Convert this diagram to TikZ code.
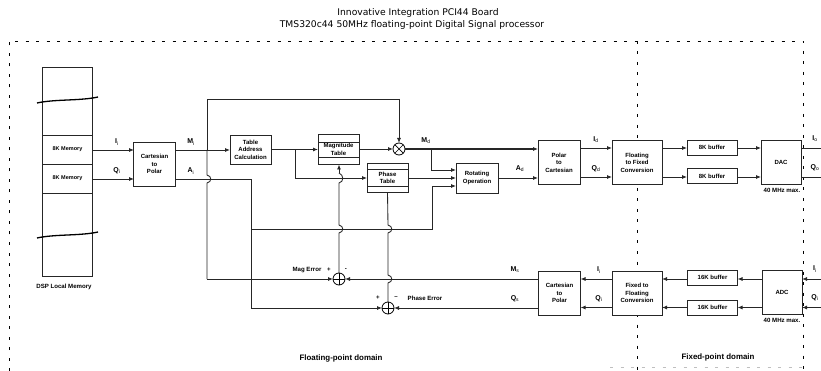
\documentclass[tikz,border=0pt]{standalone}
\usepackage{fontspec}
\setmainfont{Liberation Sans}
\newfontfamily\titlefont{DejaVu Sans}
\usetikzlibrary{arrows.meta}
\tikzset{
  every node/.style={inner sep=0pt,outer sep=0pt},
  block/.style={draw=black!85,line width=.9pt,fill=white,align=center,font=\fontsize{6}{7.6}\selectfont\bfseries},
  bigblock/.style={block,minimum width=42pt,minimum height=44pt},
  tallblock/.style={block,minimum width=50pt,minimum height=44pt},
  smallblock/.style={block,minimum width=50pt,minimum height=15pt},
  dacblock/.style={block,minimum width=40pt,minimum height=44pt},
  addrblock/.style={block,minimum width=41pt,minimum height=29pt},
  tableblock/.style={block,minimum width=41pt,minimum height=29.5pt,font=\fontsize{6}{7.6}\selectfont\bfseries},
  rotblock/.style={block,minimum width=42pt,minimum height=30pt},
  memcell/.style={draw=black!85,line width=.8pt,minimum width=50pt,minimum height=29pt,align=center,font=\fontsize{5.5}{6.5}\selectfont\bfseries},
  sumnode/.style={draw=black,circle,line width=.8pt,minimum size=12pt,fill=white},
  lab/.style={font=\fontsize{7}{8}\selectfont\bfseries},
  small/.style={font=\fontsize{6.1}{7}\selectfont\bfseries},
  sig/.style={draw=black!85,line width=.85pt},
  sigar/.style={sig,-{Latex[length=5pt,width=4pt]}},
  dom/.style={draw=black,line width=.8pt,dash pattern=on 3pt off 7.5pt},
  domfont/.style={font=\fontsize{7.9}{9}\selectfont\bfseries},
  ttl/.style={font=\titlefont\fontsize{9.2}{11}\selectfont}
}
\begin{document}
\begin{tikzpicture}[x=1pt,y=-1pt]
\useasboundingbox (0,0) rectangle (821,371);
\fill[white] (0,0) rectangle (821,371);
% title
\node[ttl] (t1) at (418,13) {Innovative Integration PCI44 Board};
\node[ttl] (t2) at (412,25) {TMS320c44 50MHz floating-point Digital Signal processor};
% domains
\coordinate (dtl) at (9,41); \coordinate (dtr) at (803,41);
\coordinate (dbl) at (9,371); \coordinate (dbr) at (803,371);
\draw[dom] (dbl) -- (dtl) -- (dtr) -- (dbr);
\draw[dom,black!25] (610,367) -- (803,367);
\coordinate (dm1) at (637,41); \coordinate (dm2) at (637,371);
\draw[dom] (dm1) -- (dm2);
% memory
\node[draw=black!85,line width=.8pt,minimum width=50pt,minimum height=209pt] (mem) at (67.5,171.5) {};
\node[memcell] (m1) at (67.5,149.5) {8K Memory};
\node[memcell] (m2) at (67.5,178.5) {8K Memory};
\coordinate (b1l) at (37,103); \coordinate (b1r) at (98,97);
\coordinate (b2l) at (37,238); \coordinate (b2r) at (98,232);
\draw[black,line width=1.3pt] (b1l) .. controls (55,99) and (80,101) .. (b1r);
\draw[black,line width=1.3pt] (b2l) .. controls (55,234) and (80,236) .. (b2r);
\node[small] (dsp) at (64,287) {DSP Local Memory};
% blocks
\node[bigblock] (c2p) at (154.5,164) {Cartesian\\to\\Polar};
\node[addrblock] (addr) at (250.5,149.5) {Table\\Address\\Calculation};
\node[tableblock] (mag) at (338.5,149.5) {Magnitude\\Table};
\node[tableblock] (ph) at (387.5,178) {Phase\\Table};
\foreach \y in {142,157} \draw[sig] (318,\y) -- (359,\y);
\foreach \y in {169,186} \draw[sig] (367,\y) -- (408,\y);
\node[rotblock] (rot) at (477,178) {Rotating\\Operation};
\node[bigblock] (p2c) at (559,162.5) {Polar\\to\\Cartesian};
\node[tallblock] (f2x) at (637,162.5) {Floating\\to Fixed\\Conversion};
\node[smallblock] (b1) at (712,147.5) {8K buffer};
\node[smallblock] (b2) at (712,176) {8K buffer};
\node[dacblock] (dac) at (781,162) {DAC};
\node[small] (d40) at (782,190) {40 MHz max.};
\node[bigblock] (c2pb) at (559.5,293) {Cartesian\\to\\Polar};
\node[tallblock] (x2f) at (637,293) {Fixed to\\Floating\\Conversion};
\node[smallblock] (b3) at (712.5,277.5) {16K buffer};
\node[smallblock] (b4) at (712.5,307.5) {16K buffer};
\node[dacblock] (adc) at (782,292) {ADC};
\node[small] (a40) at (782,320) {40 MHz max.};
\node[sumnode] (mul) at (399,149) {};
\draw[line width=.7pt] (mul.north west) -- (mul.south east) (mul.north east) -- (mul.south west);
\node[sumnode] (s1) at (339,279) {};
\draw[line width=.7pt] (s1.north) -- (s1.south) (s1.west) -- (s1.east);
\node[sumnode] (s2) at (388,308) {};
\draw[line width=.7pt] (s2.north) -- (s2.south) (s2.west) -- (s2.east);
% free ends
\coordinate (oi) at (821,148); \coordinate (oq) at (821,177);
\coordinate (ii) at (821,279); \coordinate (iq) at (821,307.5);
% junctions
\coordinate (jt) at (295,149.5);
\coordinate (jmd) at (431,149);
\coordinate (jl) at (251,229);
% input arrows
\draw[sigar] (92,150) -- (134,150);
\draw[sigar] (92,179) -- (134,179);
\draw[sigar] (175.5,150) -- (230,150);
\draw[sig] (175.5,179) -- (251,179) -- (251,308);
\draw[sigar] (251,308) -- (s2.west);
\draw[sig] (207,150) -- (207,99) -- (399,99);
\draw[sigar] (399,99) -- (mul.north);
\draw[sig] (207,150) -- (207,175) .. controls (212,176) and (212,182) .. (207,183) -- (207,279);
\draw[sigar] (207,279) -- (s1.west);
\draw[sigar] (addr.east |- jt) -- (mag.west |- jt);
\draw[sigar] (mag.east |- mul) -- (mul.west);
\draw[sig] (jt) -- (295,178);
\draw[sigar] (295,178) -- (ph.west);
\draw[sigar] (ph.east) -- (rot.west);
\draw[sig,line width=1.1pt] (mul.east) -- (534,149);
\draw[sigar] (530,149) -- (538,149);
\draw[sig] (jmd) -- (431,170);
\draw[sigar] (431,170) -- (456,170);
\draw[sig] (jl) -- (432,229) -- (432,186);
\draw[sigar] (432,186) -- (456,186);
\draw[sigar] (rot.east) -- (538,178);
% verticals
\draw[sig,fill=none] (s1.north) -- (339,233) .. controls (344,232) and (344,226) .. (339,225) -- (339,183) .. controls (344,182) and (344,175) .. (339,173);
\draw[sigar] (339,173) -- (339,164.5);
\draw[sig] (ph.south) -- (388,225) .. controls (393,226) and (393,232) .. (388,233) -- (388,275) .. controls (393,276) and (393,282) .. (388,283) -- (s2.north);
% forward chain
\draw[sigar] (580,148) -- (612,148);
\draw[sigar] (580,177) -- (612,177);
\draw[sigar] (662,148) -- (687,148);
\draw[sigar] (662,177) -- (687,177);
\draw[sigar] (737,148) -- (761,148);
\draw[sigar] (737,177) -- (761,177);
\draw[sig] (801,148) -- (oi);
\draw[sig] (801,177) -- (oq);
% return chain
\draw[sigar] (ii) -- (802,279);
\draw[sigar] (iq) -- (802,307.5);
\draw[sigar] (762,279) -- (737.5,279);
\draw[sigar] (762,307.5) -- (737.5,307.5);
\draw[sigar] (687.5,279) -- (662,279);
\draw[sigar] (687.5,307.5) -- (662,307.5);
\draw[sigar] (612,279) -- (580.5,279);
\draw[sigar] (612,307.5) -- (580.5,307.5);
\draw[sigar] (538.5,279) -- (s1.east);
\draw[sigar] (538.5,308) -- (s2.east);
% labels
\node[lab] at (117,142) {I$_{\mathrm{i}}$};
\node[lab] at (117,171) {Q$_{\mathrm{i}}$};
\node[lab] at (191,142) {M$_{\mathrm{i}}$};
\node[lab] at (191,171) {A$_{\mathrm{i}}$};
\node[lab] at (426,141) {M$_{\mathrm{d}}$};
\node[lab] at (520,169) {A$_{\mathrm{d}}$};
\node[lab] at (596,140) {I$_{\mathrm{d}}$};
\node[lab] at (596,169) {Q$_{\mathrm{d}}$};
\node[lab] at (815,139) {I$_{\mathrm{o}}$};
\node[lab] at (815,168) {Q$_{\mathrm{o}}$};
\node[lab] at (515,270) {M$_{\mathrm{s}}$};
\node[lab] at (515,299) {Q$_{\mathrm{s}}$};
\node[lab] at (599,270) {I$_{\mathrm{i}}$};
\node[lab] at (599,299) {Q$_{\mathrm{i}}$};
\node[lab] at (815,269) {I$_{\mathrm{i}}$};
\node[lab] at (815,298) {Q$_{\mathrm{i}}$};
\node[small] at (307,270) {Mag Error};
\node[small] at (329,270) {+};
\node[small] at (346,270) {-};
\node[small] at (378,298) {+};
\node[small] at (396,298) {--};
\node[small] at (425,298) {Phase Error};
\node[domfont] at (341,358) {Floating-point domain};
\node[domfont] at (718,357) {Fixed-point domain};
\end{tikzpicture}
\end{document}
